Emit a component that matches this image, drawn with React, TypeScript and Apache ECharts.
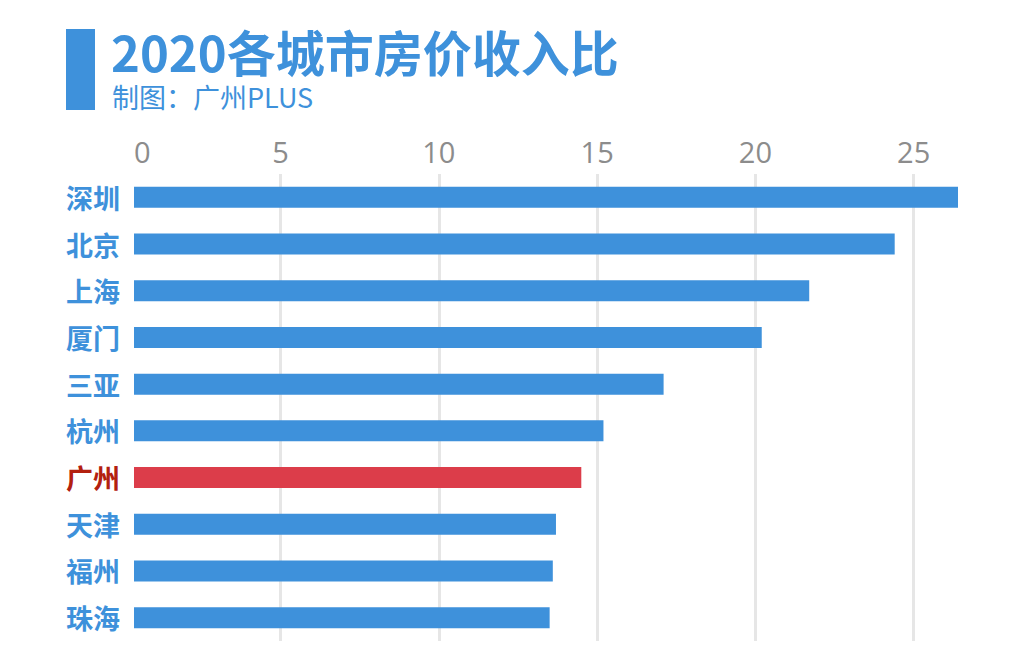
import React, { useEffect, useRef } from "react";
import * as echarts from "echarts";

const cities = ["深圳", "北京", "上海", "厦门", "三亚", "杭州", "广州", "天津", "福州", "珠海"];
const ratios = [26.4, 24.4, 21.7, 20.2, 17.1, 15.2, 14.5, 13.7, 13.6, 13.5];
const highlightCity = "广州";
const titleText = "2020各城市房价收入比";
const subText = "制图：广州PLUS";

const BLUE = "#3e91db";
const RED = "#dc3d4a";
const RED_LABEL = "#b3200f";

export default function App() {
  const ref = useRef<HTMLDivElement>(null);
  useEffect(() => {
    document.body.style.margin = "0";
    const chart = echarts.init(ref.current!, null, { renderer: "svg" });
    const cjk = "'Noto Sans CJK SC', 'Noto Sans', sans-serif";
    chart.setOption({
      animation: false,
      backgroundColor: "#ffffff",
      graphic: [
        { type: "rect", shape: { x: 66, y: 29, width: 29, height: 81 }, style: { fill: BLUE } },
        {
          type: "text", x: 111, y: 26,
          style: { text: titleText, fill: BLUE, font: `bold 49px ${cjk}`, lineHeight: 49 },
        },
        {
          type: "text", x: 112, y: 83,
          style: { text: subText, fill: BLUE, font: `normal 27px ${cjk}`, lineHeight: 27 },
        },
      ],
      grid: { left: 134, top: 174, height: 467, width: 843 },
      xAxis: {
        type: "value",
        position: "top",
        min: 0.37,
        max: 27,
        axisLine: { show: false },
        axisTick: { show: false },
        splitLine: {
          show: true,
          showMinLine: false,
          showMaxLine: false,
          lineStyle: { color: "#e6e6e6", width: 3 },
        },
        axisLabel: {
          showMaxLabel: false,
          alignMinLabel: "left",
          formatter: (v: number) => (v < 1 ? "0" : String(Math.round(v))),
          color: "#8c8c8c",
          fontSize: 29,
          fontFamily: "'Open Sans', 'Noto Sans', sans-serif",
          margin: 8,
        },
      },
      yAxis: {
        type: "category",
        inverse: true,
        data: cities,
        axisLine: { show: false },
        axisTick: { show: false },
        axisLabel: {
          margin: 14,
          fontSize: 27,
          fontWeight: "bold",
          fontFamily: cjk,
          color: (v: string) => (v === highlightCity ? RED_LABEL : BLUE),
        },
      },
      series: [
        {
          type: "bar",
          barWidth: 21,
          data: ratios.map((v, i) => ({
            value: v,
            itemStyle: { color: cities[i] === highlightCity ? RED : BLUE },
          })),
        },
      ],
    });
    return () => chart.dispose();
  }, []);
  return <div ref={ref} style={{ width: 1034, height: 668 }} />;
}
